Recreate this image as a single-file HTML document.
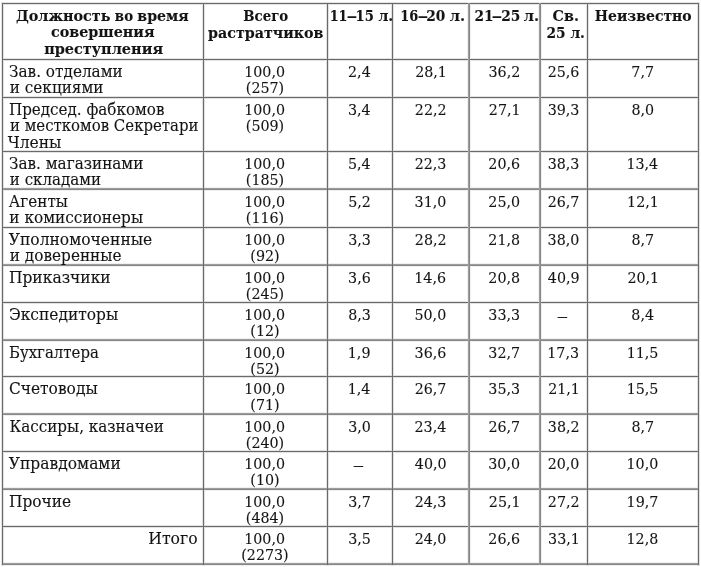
<!DOCTYPE html>
<html><head><meta charset="utf-8"><title>Таблица</title>
<style>
html,body{margin:0;padding:0;background:#fff;}
body{width:701px;height:567px;overflow:hidden;}
svg{display:block;filter:grayscale(1);}
text{font-family:"DejaVu Serif","Liberation Serif",serif;font-size:16.0px;fill:#141414;stroke:#141414;stroke-width:0.12px;}
text.b{font-weight:bold;font-size:15.6px;stroke-width:0.1px;}
text.n{font-size:15.0px;}
</style></head><body>
<svg width="701" height="567" viewBox="0 0 701 567">
<rect x="1" y="2" width="699" height="3" fill="#e2e2e2"/>
<rect x="1" y="58" width="699" height="3" fill="#e2e2e2"/>
<rect x="1" y="96" width="699" height="3" fill="#e2e2e2"/>
<rect x="1" y="150" width="699" height="3" fill="#e2e2e2"/>
<rect x="1" y="187" width="699" height="4" fill="#f0f0f0"/>
<rect x="1" y="226" width="699" height="3" fill="#e2e2e2"/>
<rect x="1" y="263" width="699" height="4" fill="#f0f0f0"/>
<rect x="1" y="301" width="699" height="3" fill="#e2e2e2"/>
<rect x="1" y="338" width="699" height="4" fill="#f0f0f0"/>
<rect x="1" y="375" width="699" height="3" fill="#e2e2e2"/>
<rect x="1" y="412" width="699" height="4" fill="#f0f0f0"/>
<rect x="1" y="450" width="699" height="3" fill="#e2e2e2"/>
<rect x="1" y="487" width="699" height="4" fill="#f0f0f0"/>
<rect x="1" y="525" width="699" height="3" fill="#e2e2e2"/>
<rect x="1" y="562" width="699" height="4" fill="#f0f0f0"/>
<rect x="1" y="2" width="3" height="564" fill="#e2e2e2"/>
<rect x="202" y="2" width="3" height="564" fill="#e2e2e2"/>
<rect x="326" y="2" width="3" height="564" fill="#e2e2e2"/>
<rect x="391" y="2" width="3" height="564" fill="#e2e2e2"/>
<rect x="467" y="2" width="4" height="564" fill="#f0f0f0"/>
<rect x="538" y="2" width="4" height="564" fill="#f0f0f0"/>
<rect x="586" y="2" width="3" height="564" fill="#e2e2e2"/>
<rect x="697" y="2" width="3" height="564" fill="#e2e2e2"/>
<rect x="2" y="3" width="697" height="1" fill="#6a6a6a"/>
<rect x="2" y="59" width="697" height="1" fill="#6a6a6a"/>
<rect x="2" y="97" width="697" height="1" fill="#6a6a6a"/>
<rect x="2" y="151" width="697" height="1" fill="#6a6a6a"/>
<rect x="2" y="188" width="697" height="1" fill="#9d9d9d"/>
<rect x="2" y="189" width="697" height="1" fill="#878787"/>
<rect x="2" y="227" width="697" height="1" fill="#6a6a6a"/>
<rect x="2" y="264" width="697" height="1" fill="#9d9d9d"/>
<rect x="2" y="265" width="697" height="1" fill="#878787"/>
<rect x="2" y="302" width="697" height="1" fill="#6a6a6a"/>
<rect x="2" y="339" width="697" height="1" fill="#9d9d9d"/>
<rect x="2" y="340" width="697" height="1" fill="#878787"/>
<rect x="2" y="376" width="697" height="1" fill="#6a6a6a"/>
<rect x="2" y="413" width="697" height="1" fill="#9d9d9d"/>
<rect x="2" y="414" width="697" height="1" fill="#878787"/>
<rect x="2" y="451" width="697" height="1" fill="#6a6a6a"/>
<rect x="2" y="488" width="697" height="1" fill="#9d9d9d"/>
<rect x="2" y="489" width="697" height="1" fill="#878787"/>
<rect x="2" y="526" width="697" height="1" fill="#6a6a6a"/>
<rect x="2" y="563" width="697" height="1" fill="#9d9d9d"/>
<rect x="2" y="564" width="697" height="1" fill="#878787"/>
<rect x="2" y="3" width="1" height="562" fill="#6a6a6a"/>
<rect x="203" y="3" width="1" height="562" fill="#6a6a6a"/>
<rect x="327" y="3" width="1" height="562" fill="#6a6a6a"/>
<rect x="392" y="3" width="1" height="562" fill="#6a6a6a"/>
<rect x="468" y="3" width="1" height="562" fill="#9d9d9d"/>
<rect x="469" y="3" width="1" height="562" fill="#878787"/>
<rect x="539" y="3" width="1" height="562" fill="#9d9d9d"/>
<rect x="540" y="3" width="1" height="562" fill="#878787"/>
<rect x="587" y="3" width="1" height="562" fill="#6a6a6a"/>
<rect x="698" y="3" width="1" height="562" fill="#6a6a6a"/>
<text class="b" x="15.95" y="20.60" textLength="94.60" lengthAdjust="spacingAndGlyphs">Должность</text>
<text class="b" x="114.87" y="20.60" textLength="18.18" lengthAdjust="spacingAndGlyphs">во</text>
<text class="b" x="137.35" y="20.60" textLength="51.35" lengthAdjust="spacingAndGlyphs">время</text>
<text class="b" x="50.95" y="37.40" textLength="103.58" lengthAdjust="spacingAndGlyphs">совершения</text>
<text class="b" x="44.14" y="54.20" textLength="118.98" lengthAdjust="spacingAndGlyphs">преступления</text>
<text class="b" x="243.20" y="20.90" textLength="45.09" lengthAdjust="spacingAndGlyphs">Всего</text>
<text class="b" x="208.03" y="37.60" textLength="115.47" lengthAdjust="spacingAndGlyphs">растратчиков</text>
<text class="b" x="329.74" y="20.90" textLength="17.77" lengthAdjust="spacingAndGlyphs">11</text>
<text class="b" x="346.49" y="20.90" textLength="10.82" lengthAdjust="spacingAndGlyphs">–</text>
<text class="b" x="355.60" y="20.90" textLength="18.32" lengthAdjust="spacingAndGlyphs">15</text>
<text class="b" x="378.43" y="20.90" textLength="14.78" lengthAdjust="spacingAndGlyphs">л.</text>
<text class="b" x="400.22" y="20.90" textLength="18.05" lengthAdjust="spacingAndGlyphs">16</text>
<text class="b" x="417.49" y="20.90" textLength="10.82" lengthAdjust="spacingAndGlyphs">–</text>
<text class="b" x="426.32" y="20.90" textLength="19.10" lengthAdjust="spacingAndGlyphs">20</text>
<text class="b" x="449.82" y="20.90" textLength="15.33" lengthAdjust="spacingAndGlyphs">л.</text>
<text class="b" x="474.42" y="20.90" textLength="19.10" lengthAdjust="spacingAndGlyphs">21</text>
<text class="b" x="491.49" y="20.90" textLength="10.82" lengthAdjust="spacingAndGlyphs">–</text>
<text class="b" x="501.22" y="20.90" textLength="19.15" lengthAdjust="spacingAndGlyphs">25</text>
<text class="b" x="523.82" y="20.90" textLength="15.33" lengthAdjust="spacingAndGlyphs">л.</text>
<text class="b" x="552.56" y="21.20" textLength="26.32" lengthAdjust="spacingAndGlyphs">Св.</text>
<text class="b" x="546.42" y="37.70" textLength="38.51" lengthAdjust="spacingAndGlyphs">25 л.</text>
<text class="b" x="594.87" y="21.20" textLength="96.81" lengthAdjust="spacingAndGlyphs">Неизвестно</text>
<text class="r" x="8.94" y="77.00" textLength="113.83" lengthAdjust="spacingAndGlyphs">Зав. отделами</text>
<text class="r" x="9.82" y="93.30" textLength="93.67" lengthAdjust="spacingAndGlyphs">и секциями</text>
<text class="n" x="244.24" y="77.00" textLength="40.80" lengthAdjust="spacingAndGlyphs">100,0</text>
<text class="n" x="245.86" y="93.30" textLength="38.32" lengthAdjust="spacingAndGlyphs">(257)</text>
<text class="n" x="348.05" y="77.00" textLength="22.66" lengthAdjust="spacingAndGlyphs">2,4</text>
<text class="n" x="415.16" y="77.00" textLength="31.73" lengthAdjust="spacingAndGlyphs">28,1</text>
<text class="n" x="488.52" y="77.00" textLength="31.73" lengthAdjust="spacingAndGlyphs">36,2</text>
<text class="n" x="547.63" y="77.00" textLength="31.73" lengthAdjust="spacingAndGlyphs">25,6</text>
<text class="n" x="631.35" y="77.00" textLength="22.66" lengthAdjust="spacingAndGlyphs">7,7</text>
<text class="r" x="8.95" y="115.00" textLength="155.50" lengthAdjust="spacingAndGlyphs">Председ. фабкомов</text>
<text class="r" x="10.03" y="131.30" textLength="188.51" lengthAdjust="spacingAndGlyphs">и месткомов Секретари</text>
<text class="r" x="7.71" y="147.60" textLength="53.78" lengthAdjust="spacingAndGlyphs">Члены</text>
<text class="n" x="244.24" y="115.00" textLength="40.80" lengthAdjust="spacingAndGlyphs">100,0</text>
<text class="n" x="245.86" y="131.30" textLength="38.32" lengthAdjust="spacingAndGlyphs">(509)</text>
<text class="n" x="348.00" y="115.00" textLength="22.66" lengthAdjust="spacingAndGlyphs">3,4</text>
<text class="n" x="414.87" y="115.00" textLength="31.73" lengthAdjust="spacingAndGlyphs">22,2</text>
<text class="n" x="488.86" y="115.00" textLength="31.73" lengthAdjust="spacingAndGlyphs">27,1</text>
<text class="n" x="547.63" y="115.00" textLength="31.73" lengthAdjust="spacingAndGlyphs">39,3</text>
<text class="n" x="631.50" y="115.00" textLength="22.66" lengthAdjust="spacingAndGlyphs">8,0</text>
<text class="r" x="8.94" y="169.00" textLength="134.41" lengthAdjust="spacingAndGlyphs">Зав. магазинами</text>
<text class="r" x="9.83" y="185.30" textLength="91.14" lengthAdjust="spacingAndGlyphs">и складами</text>
<text class="n" x="244.24" y="169.00" textLength="40.80" lengthAdjust="spacingAndGlyphs">100,0</text>
<text class="n" x="245.86" y="185.30" textLength="38.32" lengthAdjust="spacingAndGlyphs">(185)</text>
<text class="n" x="347.91" y="169.00" textLength="22.66" lengthAdjust="spacingAndGlyphs">5,4</text>
<text class="n" x="414.68" y="169.00" textLength="31.73" lengthAdjust="spacingAndGlyphs">22,3</text>
<text class="n" x="488.33" y="169.00" textLength="31.73" lengthAdjust="spacingAndGlyphs">20,6</text>
<text class="n" x="547.63" y="169.00" textLength="31.73" lengthAdjust="spacingAndGlyphs">38,3</text>
<text class="n" x="626.46" y="169.00" textLength="31.73" lengthAdjust="spacingAndGlyphs">13,4</text>
<text class="r" x="8.81" y="206.50" textLength="59.08" lengthAdjust="spacingAndGlyphs">Агенты</text>
<text class="r" x="9.32" y="222.80" textLength="133.77" lengthAdjust="spacingAndGlyphs">и комиссионеры</text>
<text class="n" x="244.24" y="206.50" textLength="40.80" lengthAdjust="spacingAndGlyphs">100,0</text>
<text class="n" x="245.86" y="222.80" textLength="38.32" lengthAdjust="spacingAndGlyphs">(116)</text>
<text class="n" x="348.24" y="206.50" textLength="22.66" lengthAdjust="spacingAndGlyphs">5,2</text>
<text class="n" x="414.59" y="206.50" textLength="31.73" lengthAdjust="spacingAndGlyphs">31,0</text>
<text class="n" x="488.33" y="206.50" textLength="31.73" lengthAdjust="spacingAndGlyphs">25,0</text>
<text class="n" x="547.68" y="206.50" textLength="31.73" lengthAdjust="spacingAndGlyphs">26,7</text>
<text class="n" x="627.08" y="206.50" textLength="31.73" lengthAdjust="spacingAndGlyphs">12,1</text>
<text class="r" x="8.81" y="245.00" textLength="143.45" lengthAdjust="spacingAndGlyphs">Уполномоченные</text>
<text class="r" x="9.82" y="261.30" textLength="111.69" lengthAdjust="spacingAndGlyphs">и доверенные</text>
<text class="n" x="244.24" y="245.00" textLength="40.80" lengthAdjust="spacingAndGlyphs">100,0</text>
<text class="n" x="250.37" y="261.30" textLength="29.25" lengthAdjust="spacingAndGlyphs">(92)</text>
<text class="n" x="348.19" y="245.00" textLength="22.66" lengthAdjust="spacingAndGlyphs">3,3</text>
<text class="n" x="414.87" y="245.00" textLength="31.73" lengthAdjust="spacingAndGlyphs">28,2</text>
<text class="n" x="488.33" y="245.00" textLength="31.73" lengthAdjust="spacingAndGlyphs">21,8</text>
<text class="n" x="547.59" y="245.00" textLength="31.73" lengthAdjust="spacingAndGlyphs">38,0</text>
<text class="n" x="631.50" y="245.00" textLength="22.66" lengthAdjust="spacingAndGlyphs">8,7</text>
<text class="r" x="8.93" y="282.50" textLength="101.78" lengthAdjust="spacingAndGlyphs">Приказчики</text>
<text class="n" x="244.24" y="282.50" textLength="40.80" lengthAdjust="spacingAndGlyphs">100,0</text>
<text class="n" x="245.86" y="298.80" textLength="38.32" lengthAdjust="spacingAndGlyphs">(245)</text>
<text class="n" x="348.10" y="282.50" textLength="22.66" lengthAdjust="spacingAndGlyphs">3,6</text>
<text class="n" x="414.25" y="282.50" textLength="31.73" lengthAdjust="spacingAndGlyphs">14,6</text>
<text class="n" x="488.33" y="282.50" textLength="31.73" lengthAdjust="spacingAndGlyphs">20,8</text>
<text class="n" x="547.87" y="282.50" textLength="31.73" lengthAdjust="spacingAndGlyphs">40,9</text>
<text class="n" x="627.46" y="282.50" textLength="31.73" lengthAdjust="spacingAndGlyphs">20,1</text>
<text class="r" x="8.93" y="320.00" textLength="109.26" lengthAdjust="spacingAndGlyphs">Экспедиторы</text>
<text class="n" x="244.24" y="320.00" textLength="40.80" lengthAdjust="spacingAndGlyphs">100,0</text>
<text class="n" x="250.37" y="336.30" textLength="29.25" lengthAdjust="spacingAndGlyphs">(12)</text>
<text class="n" x="348.24" y="320.00" textLength="22.66" lengthAdjust="spacingAndGlyphs">8,3</text>
<text class="n" x="414.49" y="320.00" textLength="31.73" lengthAdjust="spacingAndGlyphs">50,0</text>
<text class="n" x="488.33" y="320.00" textLength="31.73" lengthAdjust="spacingAndGlyphs">33,3</text>
<text class="n" x="556.84" y="320.80" textLength="11.31" lengthAdjust="spacingAndGlyphs">–</text>
<text class="n" x="631.35" y="320.00" textLength="22.66" lengthAdjust="spacingAndGlyphs">8,4</text>
<text class="r" x="8.96" y="357.50" textLength="89.89" lengthAdjust="spacingAndGlyphs">Бухгалтера</text>
<text class="n" x="244.24" y="357.50" textLength="40.80" lengthAdjust="spacingAndGlyphs">100,0</text>
<text class="n" x="250.37" y="373.80" textLength="29.25" lengthAdjust="spacingAndGlyphs">(52)</text>
<text class="n" x="347.81" y="357.50" textLength="22.66" lengthAdjust="spacingAndGlyphs">1,9</text>
<text class="n" x="414.59" y="357.50" textLength="31.73" lengthAdjust="spacingAndGlyphs">36,6</text>
<text class="n" x="488.33" y="357.50" textLength="31.73" lengthAdjust="spacingAndGlyphs">32,7</text>
<text class="n" x="547.30" y="357.50" textLength="31.73" lengthAdjust="spacingAndGlyphs">17,3</text>
<text class="n" x="626.65" y="357.50" textLength="31.73" lengthAdjust="spacingAndGlyphs">11,5</text>
<text class="r" x="8.93" y="394.00" textLength="88.75" lengthAdjust="spacingAndGlyphs">Счетоводы</text>
<text class="n" x="244.24" y="394.00" textLength="40.80" lengthAdjust="spacingAndGlyphs">100,0</text>
<text class="n" x="250.37" y="410.30" textLength="29.25" lengthAdjust="spacingAndGlyphs">(71)</text>
<text class="n" x="347.67" y="394.00" textLength="22.66" lengthAdjust="spacingAndGlyphs">1,4</text>
<text class="n" x="414.68" y="394.00" textLength="31.73" lengthAdjust="spacingAndGlyphs">26,7</text>
<text class="n" x="488.33" y="394.00" textLength="31.73" lengthAdjust="spacingAndGlyphs">35,3</text>
<text class="n" x="548.16" y="394.00" textLength="31.73" lengthAdjust="spacingAndGlyphs">21,1</text>
<text class="n" x="626.65" y="394.00" textLength="31.73" lengthAdjust="spacingAndGlyphs">15,5</text>
<text class="r" x="9.45" y="431.50" textLength="154.45" lengthAdjust="spacingAndGlyphs">Кассиры, казначеи</text>
<text class="n" x="244.24" y="431.50" textLength="40.80" lengthAdjust="spacingAndGlyphs">100,0</text>
<text class="n" x="245.86" y="447.80" textLength="38.32" lengthAdjust="spacingAndGlyphs">(240)</text>
<text class="n" x="348.15" y="431.50" textLength="22.66" lengthAdjust="spacingAndGlyphs">3,0</text>
<text class="n" x="414.54" y="431.50" textLength="31.73" lengthAdjust="spacingAndGlyphs">23,4</text>
<text class="n" x="488.38" y="431.50" textLength="31.73" lengthAdjust="spacingAndGlyphs">26,7</text>
<text class="n" x="547.83" y="431.50" textLength="31.73" lengthAdjust="spacingAndGlyphs">38,2</text>
<text class="n" x="631.50" y="431.50" textLength="22.66" lengthAdjust="spacingAndGlyphs">8,7</text>
<text class="r" x="8.81" y="469.00" textLength="111.96" lengthAdjust="spacingAndGlyphs">Управдомами</text>
<text class="n" x="244.24" y="469.00" textLength="40.80" lengthAdjust="spacingAndGlyphs">100,0</text>
<text class="n" x="250.37" y="485.30" textLength="29.25" lengthAdjust="spacingAndGlyphs">(10)</text>
<text class="n" x="352.84" y="469.80" textLength="11.31" lengthAdjust="spacingAndGlyphs">–</text>
<text class="n" x="414.87" y="469.00" textLength="31.73" lengthAdjust="spacingAndGlyphs">40,0</text>
<text class="n" x="488.29" y="469.00" textLength="31.73" lengthAdjust="spacingAndGlyphs">30,0</text>
<text class="n" x="547.63" y="469.00" textLength="31.73" lengthAdjust="spacingAndGlyphs">20,0</text>
<text class="n" x="626.55" y="469.00" textLength="31.73" lengthAdjust="spacingAndGlyphs">10,0</text>
<text class="r" x="9.03" y="506.50" textLength="62.18" lengthAdjust="spacingAndGlyphs">Прочие</text>
<text class="n" x="244.24" y="506.50" textLength="40.80" lengthAdjust="spacingAndGlyphs">100,0</text>
<text class="n" x="245.86" y="522.80" textLength="38.32" lengthAdjust="spacingAndGlyphs">(484)</text>
<text class="n" x="348.15" y="506.50" textLength="22.66" lengthAdjust="spacingAndGlyphs">3,7</text>
<text class="n" x="414.68" y="506.50" textLength="31.73" lengthAdjust="spacingAndGlyphs">24,3</text>
<text class="n" x="488.86" y="506.50" textLength="31.73" lengthAdjust="spacingAndGlyphs">25,1</text>
<text class="n" x="547.87" y="506.50" textLength="31.73" lengthAdjust="spacingAndGlyphs">27,2</text>
<text class="n" x="626.60" y="506.50" textLength="31.73" lengthAdjust="spacingAndGlyphs">19,7</text>
<text class="r" x="148.32" y="544.00" textLength="49.31" lengthAdjust="spacingAndGlyphs">Итого</text>
<text class="n" x="244.24" y="544.00" textLength="40.80" lengthAdjust="spacingAndGlyphs">100,0</text>
<text class="n" x="241.30" y="560.30" textLength="47.38" lengthAdjust="spacingAndGlyphs">(2273)</text>
<text class="n" x="348.19" y="544.00" textLength="22.66" lengthAdjust="spacingAndGlyphs">3,5</text>
<text class="n" x="414.63" y="544.00" textLength="31.73" lengthAdjust="spacingAndGlyphs">24,0</text>
<text class="n" x="488.33" y="544.00" textLength="31.73" lengthAdjust="spacingAndGlyphs">26,6</text>
<text class="n" x="548.11" y="544.00" textLength="31.73" lengthAdjust="spacingAndGlyphs">33,1</text>
<text class="n" x="626.55" y="544.00" textLength="31.73" lengthAdjust="spacingAndGlyphs">12,8</text>
</svg>
</body></html>
